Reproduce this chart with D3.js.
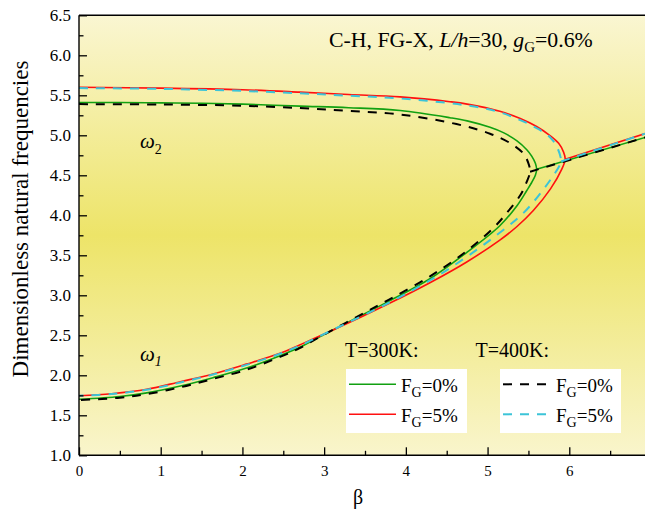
<!DOCTYPE html>
<html><head><meta charset="utf-8">
<script src="https://cdn.jsdelivr.net/npm/d3@7"></script>
<style>body{margin:0;background:#fff}svg{display:block}text{font-family:"Liberation Serif","Times New Roman",serif;fill:#000}</style>
</head><body><svg id="c" width="645" height="512"></svg>
<script>
// ---- data (β, ω) ----
const xTicks = [0,1,2,3,4,5,6];
const yTicks = [1.0,1.5,2.0,2.5,3.0,3.5,4.0,4.5,5.0,5.5,6.0,6.5];
// T=300K, FG=0% (green): upper branch then lower branch
const loop300_0 = [[0,5.41],[0.5,5.41],[1,5.405],[1.5,5.4],[2,5.39],[2.7,5.365],[3.3,5.345],[3.93,5.31],[4.54,5.22],[4.75,5.18],[5.03,5.10],[5.2,5.03],[5.36,4.93],[5.48,4.82],[5.54,4.74],[5.585,4.65],[5.60,4.575],
  [5.585,4.50],[5.54,4.41],[5.48,4.31],[5.36,4.12],[5.15,3.87],[4.75,3.54],[4.3,3.21],[3.8,2.93],[3.4,2.72],[3.0,2.51],[2.7,2.35],[2.46,2.245],[2.05,2.09],[1.64,1.97],[1.24,1.866],[0.83,1.78],[0.5,1.735],[0,1.70]];
const line300_0 = [[5.60,4.575],[7.0,4.995]];
// T=300K, FG=5% (red)
const loop300_5 = [[0,5.60],[1,5.59],[2,5.57],[2.7,5.54],[3.3,5.51],[3.93,5.48],[4.54,5.42],[4.75,5.39],[5.15,5.30],[5.40,5.21],[5.60,5.11],[5.76,5.00],[5.87,4.90],[5.93,4.79],[5.95,4.70],
  [5.91,4.58],[5.77,4.33],[5.56,4.06],[5.36,3.86],[5.15,3.69],[4.75,3.42],[4.3,3.16],[3.8,2.90],[3.11,2.565],[2.7,2.38],[2.46,2.275],[2.05,2.14],[1.64,2.016],[1.24,1.92],[0.83,1.825],[0.4,1.77],[0,1.745]];
const line300_5 = [[5.95,4.70],[7.0,5.045]];
// T=400K, FG=0% (black dashed)
const loop400_0 = [[0,5.39],[1,5.385],[2,5.37],[2.7,5.34],[3.3,5.305],[3.93,5.26],[4.62,5.14],[5.03,5.02],[5.28,4.90],[5.44,4.77],[5.50,4.65],[5.52,4.545],
  [5.48,4.42],[5.40,4.25],[5.235,4.03],[5.07,3.84],[4.74,3.55],[4.3,3.24],[3.8,2.95],[3.4,2.73],[3.0,2.51],[2.7,2.34],[2.46,2.23],[2.05,2.07],[1.64,1.955],[1.24,1.85],[0.83,1.765],[0.5,1.72],[0,1.69]];
const line400_0 = [[5.52,4.545],[7.0,4.995]];
// T=400K, FG=5% (cyan dashed)
const loop400_5 = [[0,5.59],[1,5.58],[2,5.555],[2.7,5.525],[3.3,5.495],[3.93,5.46],[4.70,5.38],[5.11,5.30],[5.40,5.19],[5.60,5.09],[5.77,4.97],[5.86,4.83],[5.90,4.673],
  [5.88,4.62],[5.82,4.52],[5.68,4.32],[5.44,4.03],[5.03,3.69],[4.54,3.34],[4.3,3.19],[3.8,2.91],[3.11,2.57],[2.7,2.37],[2.46,2.27],[2.05,2.13],[1.64,2.01],[1.24,1.91],[0.83,1.82],[0.4,1.765],[0,1.745]];
const line400_5 = [[5.90,4.673],[7.0,5.045]];

// ---- layout ----
const svg = d3.select("#c");
const x = d3.scaleLinear().domain([0,7]).range([79,651]);
const y = d3.scaleLinear().domain([1,6.5]).range([455.3,15.3]);

const defs = svg.append("defs");
const grad = defs.append("linearGradient").attr("id","bg").attr("x1",0).attr("y1",0).attr("x2",0).attr("y2",1);
grad.append("stop").attr("offset","0%").attr("stop-color","#faf6d2");
grad.append("stop").attr("offset","50%").attr("stop-color","#ede468");
grad.append("stop").attr("offset","100%").attr("stop-color","#f9f5cc");
defs.append("clipPath").attr("id","clip").append("rect")
  .attr("x",x(0)).attr("y",y(6.5)).attr("width",x(7)-x(0)).attr("height",y(1)-y(6.5));

svg.append("rect").attr("x",x(0)).attr("y",y(6.5)).attr("width",x(7)-x(0)).attr("height",y(1)-y(6.5)).attr("fill","url(#bg)");

const g = svg.append("g").attr("clip-path","url(#clip)");
const line = d3.line().x(d=>x(d[0])).y(d=>y(d[1])).curve(d3.curveCatmullRom.alpha(0.5));

function draw(data, color, w, dash){
  const p = g.append("path").attr("d", line(data)).attr("fill","none").attr("stroke",color).attr("stroke-width",w);
  if (dash) p.attr("stroke-dasharray",dash);
}
const GREEN="#11a011", RED="#ff1010", BLACK="#000", CYAN="#3cc4d8";
draw(loop300_0, GREEN, 1.6); draw(line300_0, GREEN, 1.6);
draw(loop300_5, RED, 1.6); draw(line300_5, RED, 1.6);
draw(loop400_0, BLACK, 2, "9,8"); draw(line400_0, BLACK, 2, "9,8");
draw(loop400_5, CYAN, 2, "9,8"); draw(line400_5, CYAN, 2, "9,8");

// ---- axes ----
const yAx = svg.append("g").attr("transform",`translate(${x(0)},0)`)
  .call(d3.axisLeft(y).tickValues(yTicks).tickSize(-8).tickPadding(8).tickFormat(d3.format(".1f")));
const yMinor = svg.append("g").attr("transform",`translate(${x(0)},0)`)
  .call(d3.axisLeft(y).tickValues(d3.range(1.25,6.5,0.5)).tickSize(-4.5).tickFormat(""));
const xAx = svg.append("g").attr("transform",`translate(0,${y(1)})`)
  .call(d3.axisBottom(x).tickValues(xTicks).tickSize(-8).tickPadding(10).tickFormat(d3.format("d")));
const xMinor = svg.append("g").attr("transform",`translate(0,${y(1)})`)
  .call(d3.axisBottom(x).tickValues(d3.range(0.5,7,1)).tickSize(-4.5).tickFormat(""));
[yAx,yMinor,xAx,xMinor].forEach(a=>{a.select(".domain").remove(); a.selectAll("line").attr("stroke","#000").attr("stroke-width",1.3);});
yAx.selectAll("text").style("font-size","17px").attr("fill","#000").style("font-family","Liberation Serif");
xAx.selectAll("text").style("font-size","15px").attr("fill","#000").style("font-family","Liberation Serif");
// axis lines
svg.append("line").attr("x1",x(0)).attr("x2",x(0)).attr("y1",y(6.5)).attr("y2",y(1)).attr("stroke","#000").attr("stroke-width",1.4);
svg.append("line").attr("x1",x(0)).attr("x2",x(7)).attr("y1",y(1)).attr("y2",y(1)).attr("stroke","#000").attr("stroke-width",1.4);
svg.append("line").attr("x1",x(0)).attr("x2",x(7)).attr("y1",y(6.5)).attr("y2",y(6.5)).attr("stroke","#000").attr("stroke-width",1.4);

// axis titles
svg.append("text").attr("transform","translate(28,219) rotate(-90)").attr("text-anchor","middle")
  .style("font-size","23px").text("Dimensionless natural frequencies");
svg.append("text").attr("x",358).attr("y",504).attr("text-anchor","middle").style("font-size","20px").text("β");

// title
const t = svg.append("text").attr("x",329).attr("y",47).style("font-size","21.8px");
t.append("tspan").text("C-H, FG-X, ");
t.append("tspan").style("font-style","italic").text("L/h");
t.append("tspan").text("=30, ");
t.append("tspan").style("font-style","italic").text("g");
t.append("tspan").attr("dy",5).style("font-size","15px").text("G");
t.append("tspan").attr("dy",-5).text("=0.6%");

// omega labels
const w2 = svg.append("text").attr("x",140).attr("y",148).style("font-size","21px").style("font-style","italic");
w2.append("tspan").text("ω"); w2.append("tspan").attr("dy",6).style("font-size","14px").style("font-style","normal").text("2");
const w1 = svg.append("text").attr("x",140).attr("y",361).style("font-size","21px").style("font-style","italic");
w1.append("tspan").text("ω"); w1.append("tspan").attr("dy",5).style("font-size","14px").text("1");

// legend
svg.append("text").attr("x",345).attr("y",357).style("font-size","20px").text("T=300K:");
svg.append("text").attr("x",475.5).attr("y",357).style("font-size","20px").text("T=400K:");
const legends = [
  {bx:346, lx:349, tx:401, items:[{c:GREEN,w:1.6,d:null,lab:"0%"},{c:RED,w:1.6,d:null,lab:"5%"}]},
  {bx:500, lx:503, tx:556, items:[{c:BLACK,w:2,d:"9,8",lab:"0%"},{c:CYAN,w:2,d:"9,8",lab:"5%"}]}
];
legends.forEach(L=>{
  svg.append("rect").attr("x",L.bx).attr("y",369).attr("width",121).attr("height",64).attr("fill","#fff");
  L.items.forEach((it,i)=>{
    const yy = 384.3 + i*30;
    const ln = svg.append("line").attr("x1",L.lx).attr("x2",L.lx+47).attr("y1",yy).attr("y2",yy)
      .attr("stroke",it.c).attr("stroke-width",it.w);
    if (it.d) ln.attr("stroke-dasharray",it.d);
    const tx = svg.append("text").attr("x",L.tx).attr("y",yy+8).style("font-size","19px");
    tx.append("tspan").text("F");
    tx.append("tspan").attr("dy",5).style("font-size","14px").text("G");
    tx.append("tspan").attr("dy",-5).text("="+it.lab);
  });
});
</script></body></html>
